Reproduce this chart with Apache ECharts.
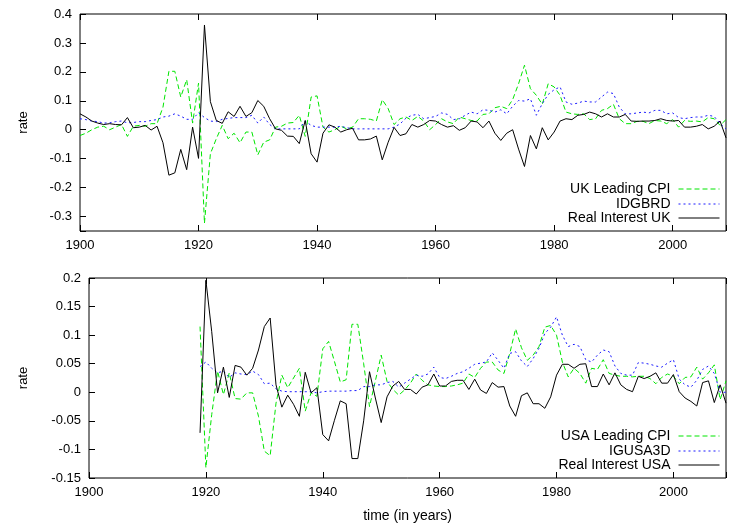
<!DOCTYPE html>
<html>
<head>
<meta charset="utf-8">
<script src="https://cdn.jsdelivr.net/npm/echarts@6/dist/echarts.min.js"></script>
<style>
  html, body { margin: 0; padding: 0; background: #fff; }
  #chart { width: 729px; height: 526px; }
</style>
</head>
<body>
<div id="chart"></div>
<script>
// year ranges
var ukStart = 1900;
var usStart = 1919;

// UK panel, one value per year from 1900 to 2009
var ukLeadingCpi = [
  -0.02, -0.012, 0, 0.009, 0.012, 0, 0.009, 0.018, -0.023, 0.012,
  0.015, 0.012, 0.021, 0.021, 0.078, 0.202, 0.202, 0.113, 0.173, 0.023,
  0.161, -0.323, -0.083, -0.031, 0.015, -0.031, -0.012, -0.045, -0.008, -0.008,
  -0.087, -0.043, -0.035, 0.009, 0.012, 0.023, 0.025, 0.05, -0.023, 0.113,
  0.117, 0.009, -0.008, 0, 0.012, 0.003, 0.009, 0.038, 0.038, 0.036,
  0.03, 0.104, 0.073, 0.018, 0.038, 0.044, 0.032, 0.046, 0.03, 0,
  0.018, 0.038, 0.027, 0.021, 0.044, 0.038, 0.032, 0.03, 0.053, 0.055,
  0.076, 0.081, 0.073, 0.104, 0.159, 0.223, 0.142, 0.119, 0.088, 0.159,
  0.148, 0.119, 0.061, 0.055, 0.053, 0.055, 0.035, 0.038, 0.067, 0.073,
  0.088, 0.038, 0.021, 0.021, 0.029, 0.029, 0.021, 0.032, 0.03, 0.021,
  0.035, 0.009, 0.032, 0.029, 0.03, 0.027, 0.042, 0.038, 0.015, 0.035
];
var idgbrd = [
  0.038, 0.035, 0.03, 0.028, 0.023, 0.024, 0.028, 0.03, 0.024, 0.025,
  0.028, 0.028, 0.032, 0.035, 0.044, 0.047, 0.055, 0.047, 0.036, 0.036,
  0.059, 0.042, 0.03, 0.028, 0.036, 0.039, 0.042, 0.042, 0.042, 0.05,
  0.023, 0.044, 0.018, 0.003, 0.003, 0.003, 0.003, 0.003, 0.03, 0.015,
  0.009, 0.009, 0.009, 0.009, 0.012, 0.007, 0.003, 0.003, 0.003, 0.003,
  0.003, 0.003, 0.003, 0.009, 0.02, 0.04, 0.05, 0.053, 0.038, 0.042,
  0.046, 0.058, 0.053, 0.035, 0.038, 0.05, 0.061, 0.055, 0.069, 0.067,
  0.061, 0.069, 0.055, 0.081, 0.101, 0.099, 0.107, 0.05, 0.09, 0.122,
  0.138, 0.148, 0.096, 0.088, 0.092, 0.099, 0.096, 0.096, 0.113, 0.13,
  0.125, 0.078, 0.055, 0.055, 0.058, 0.061, 0.058, 0.067, 0.067, 0.055,
  0.058, 0.042, 0.038, 0.042, 0.044, 0.044, 0.05, 0.046, 0.021, 0.003
];
var realInterestUk = [
  0.055, 0.044, 0.03, 0.023, 0.018, 0.021, 0.018, 0.017, 0.042, 0.007,
  0.009, 0.015, -0.001, 0.012, -0.045, -0.157, -0.149, -0.068, -0.138, 0.009,
  -0.099, 0.362, 0.097, 0.032, 0.022, 0.062, 0.046, 0.081, 0.046, 0.059,
  0.101, 0.081, 0.038, 0.003, -0.002, -0.022, -0.023, -0.048, 0.032, -0.083,
  -0.112, -0.012, 0.017, 0.009, -0.008, 0, 0.005, -0.035, -0.035, -0.032,
  -0.022, -0.104, -0.043, 0.008, -0.02, -0.014, 0.018, 0.009, 0.018, 0.032,
  0.03, 0.018, 0.009, 0.014, -0.002, 0.007, 0.03, 0.027, 0.007, 0.03,
  -0.012, -0.037, -0.012, 0, -0.067, -0.127, -0.02, -0.066, 0.007, -0.035,
  -0.008, 0.03, 0.038, 0.035, 0.05, 0.053, 0.061, 0.055, 0.044, 0.055,
  0.044, 0.044, 0.053, 0.03, 0.029, 0.03, 0.03, 0.032, 0.038, 0.032,
  0.03, 0.032, 0.009, 0.009, 0.012, 0.018, 0.003, 0.012, 0.03, -0.028
];

// USA panel, one value per year from 1919 to 2009
var usLeadingCpi = [
  0.115, -0.132, -0.039, 0.037, -0.004, 0.034, -0.011, -0.012, -0.001, -0.001, -0.042,
  -0.103, -0.111, -0.019, 0.03, 0.008, 0.025, 0.042, -0.033, -0.001, -0.007,
  0.076, 0.089, 0.054, 0.018, 0.022, 0.119, 0.119, 0.05, -0.025, 0.02,
  0.065, 0.019, 0.005, -0.005, 0.004, 0.016, 0.032, 0.021, 0.013, 0.011,
  0.01, 0.01, 0.011, 0.013, 0.016, 0.032, 0.026, 0.042, 0.053, 0.053,
  0.039, 0.033, 0.068, 0.111, 0.078, 0.056, 0.065, 0.08, 0.114, 0.117,
  0.1, 0.053, 0.027, 0.042, 0.033, 0.016, 0.042, 0.04, 0.057, 0.033,
  0.03, 0.028, 0.028, 0.027, 0.028, 0.028, 0.024, 0.015, 0.026, 0.032,
  0.028, 0.015, 0.026, 0.027, 0.044, 0.023, 0.034, 0.048, -0.013, 0.02
];
var igusa3d = [
  0.045, 0.053, 0.042, 0.034, 0.037, 0.026, 0.034, 0.032, 0.031, 0.037, 0.031,
  0.015, 0.016, 0.006, 0.002, 0.001, 0.001, 0.001, 0.001, 0.001, -0.001,
  0.001, 0.002, 0.002, 0.002, 0.002, 0.003, 0.003, 0.01, 0.01, 0.013,
  0.013, 0.017, 0.019, 0.009, 0.016, 0.023, 0.03, 0.028, 0.032, 0.044,
  0.026, 0.024, 0.028, 0.033, 0.036, 0.042, 0.049, 0.051, 0.053, 0.069,
  0.056, 0.042, 0.068, 0.071, 0.055, 0.045, 0.059, 0.077, 0.103, 0.114,
  0.132, 0.1, 0.08, 0.084, 0.08, 0.057, 0.053, 0.065, 0.074, 0.071,
  0.046, 0.033, 0.03, 0.03, 0.052, 0.051, 0.049, 0.046, 0.044, 0.051,
  0.057, 0.023, 0.013, 0.009, 0.021, 0.04, 0.046, 0.033, 0, 0
];
var realInterestUs = [
  -0.071, 0.196, 0.106, -0.001, 0.044, -0.009, 0.047, 0.044, 0.03, 0.042, 0.074,
  0.115, 0.13, 0.013, -0.026, -0.005, -0.021, -0.042, 0.035, -0.001, 0.008,
  -0.074, -0.085, -0.049, -0.015, -0.02, -0.116, -0.116, -0.05, 0.036, -0.01,
  -0.053, -0.008, 0.011, 0.019, 0.005, 0.005, -0.003, 0.009, 0.013, 0.032,
  0.011, 0.011, 0.019, 0.021, 0.021, 0.005, 0.023, 0.004, -0.002, 0.017,
  0.009, 0.01, -0.024, -0.042, -0.006, -0.001, -0.02, -0.02, -0.028, -0.008,
  0.03, 0.049, 0.049, 0.042, 0.049, 0.05, 0.01, 0.01, 0.032, 0.013,
  0.034, 0.013, 0.005, 0.001, 0.028, 0.024, 0.028, 0.034, 0.016, 0.016,
  0.031, 0.001, -0.01, -0.016, -0.024, 0.017, 0.02, -0.018, 0.013, -0.019
];

// pair each value with its year
function byYear(start, values) {
  return values.map(function (v, i) { return [start + i, v]; });
}

var font = 'Liberation Sans, Arial, Helvetica, sans-serif';
var green = '#00e600';
var blue = '#1a1aff';

function xAxisCfg(grid, pos, labels, name) {
  return {
    type: 'value', gridIndex: grid, position: pos,
    min: 1900, max: 2009, interval: 20,
    axisLine: { show: false, onZero: false },
    axisTick: { show: true, inside: true, length: 6, lineStyle: { color: '#000' } },
    axisLabel: {
      show: labels, margin: 8, fontSize: 13, color: '#000', fontFamily: font,
      formatter: function (v) { return v % 20 === 0 ? String(v) : ''; }
    },
    splitLine: { show: false },
    name: name || '', nameLocation: 'middle', nameGap: 31,
    nameTextStyle: { fontSize: 14, color: '#000', fontFamily: font }
  };
}

function yAxisCfg(grid, min, max, gap, extra) {
  var a = {
    type: 'value', gridIndex: grid, min: min, max: max,
    axisLine: { show: false, onZero: false },
    axisTick: { show: true, inside: true, length: 6, lineStyle: { color: '#000' } },
    axisLabel: { margin: 8, fontSize: 13, color: '#000', fontFamily: font },
    splitLine: { show: false },
    name: 'rate', nameLocation: 'middle', nameGap: gap, nameRotate: 90,
    nameTextStyle: { fontSize: 13, color: '#000', fontFamily: font }
  };
  for (var k in extra) a[k] = extra[k];
  return a;
}

function lineSeries(name, xi, yi, data, color, dash) {
  return {
    name: name, type: 'line', xAxisIndex: xi, yAxisIndex: yi,
    data: data, symbol: 'none', animation: false,
    lineStyle: { color: color, width: 1, type: dash },
    itemStyle: { color: color }
  };
}

// one legend per row so the line samples line up on the right
function legendCfg(name, top) {
  return {
    data: [name], right: 9, top: top, padding: 0, align: 'right',
    itemWidth: 41, itemHeight: 14, itemGap: 0,
    itemStyle: { color: 'rgba(0,0,0,0)', borderWidth: 0, opacity: 0 },
    lineStyle: { width: 1 },
    textStyle: { fontSize: 14, color: '#000', fontFamily: font, padding: [0, 3, 0, 0] }
  };
}

var chart = echarts.init(document.getElementById('chart'));

var option = {
  backgroundColor: '#fff',
  animation: false,
  grid: [
    { left: 80, right: 1, top: 14, height: 217, show: true, borderColor: '#000', borderWidth: 1 },
    { left: 89, right: 1, top: 278, height: 200, show: true, borderColor: '#000', borderWidth: 1 }
  ],
  xAxis: [
    xAxisCfg(0, 'bottom', true),
    xAxisCfg(1, 'bottom', true, 'time (in years)'),
    xAxisCfg(0, 'top', false),
    xAxisCfg(1, 'top', false)
  ],
  yAxis: [
    yAxisCfg(0, -0.35, 0.4, 50, {
      splitNumber: 7,
      axisLabel: {
        margin: 8, fontSize: 13, color: '#000', fontFamily: font,
        formatter: function (v) {
          var t = Math.round(v * 10);
          return Math.abs(v * 10 - t) < 1e-6 ? String(t / 10) : '';
        }
      }
    }),
    yAxisCfg(1, -0.15, 0.2, 59, { interval: 0.05 })
  ],
  legend: [
    legendCfg('UK Leading CPI', 182),
    legendCfg('IDGBRD', 197),
    legendCfg('Real Interest UK', 211),
    legendCfg('USA Leading CPI', 429),
    legendCfg('IGUSA3D', 444),
    legendCfg('Real Interest USA', 458)
  ],
  series: [
    lineSeries('UK Leading CPI', 0, 0, byYear(ukStart, ukLeadingCpi), green, [5, 3]),
    lineSeries('IDGBRD', 0, 0, byYear(ukStart, idgbrd), blue, [2, 3]),
    lineSeries('Real Interest UK', 0, 0, byYear(ukStart, realInterestUk), '#000', 'solid'),
    lineSeries('USA Leading CPI', 1, 1, byYear(usStart, usLeadingCpi), green, [5, 3]),
    lineSeries('IGUSA3D', 1, 1, byYear(usStart, igusa3d), blue, [2, 3]),
    lineSeries('Real Interest USA', 1, 1, byYear(usStart, realInterestUs), '#000', 'solid')
  ]
};

chart.setOption(option);
</script>
</body>
</html>
